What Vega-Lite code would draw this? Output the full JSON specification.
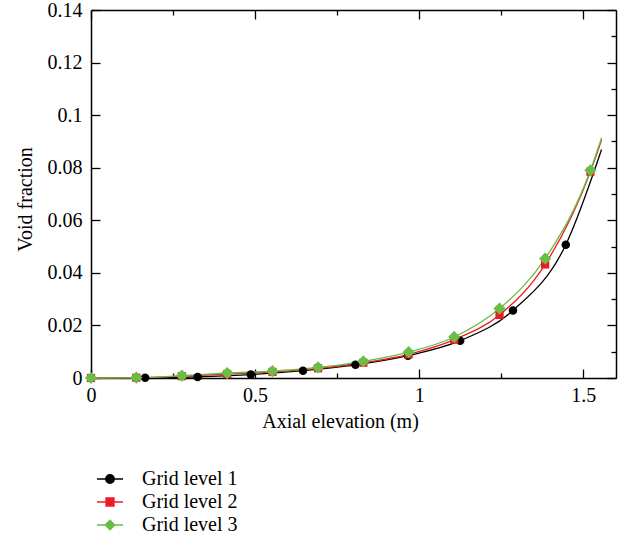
{
  "$schema": "https://vega.github.io/schema/vega-lite/v6.json",
  "width": 525,
  "height": 368,
  "autosize": {"type": "none"},
  "padding": {"left": 91, "top": 10, "right": 11, "bottom": 168},
  "background": "white",
  "config": {
    "view": {"stroke": null},
    "font": "Liberation Serif",
    "axis": {
      "labelFont": "Liberation Serif",
      "titleFont": "Liberation Serif",
      "labelFontSize": 20,
      "titleFontSize": 20,
      "titleFontWeight": "normal",
      "labelColor": "#000",
      "titleColor": "#000",
      "domainColor": "#000",
      "domainWidth": 1.5,
      "tickColor": "#000",
      "tickWidth": 1.3,
      "grid": false
    }
  },
  "data": {
    "values": [
      {"series": "Grid level 1", "elevation": 0, "voidFraction": 0, "marker": true},
      {"series": "Grid level 1", "elevation": 0.165, "voidFraction": 0.0001, "marker": true},
      {"series": "Grid level 1", "elevation": 0.325, "voidFraction": 0.0004, "marker": true},
      {"series": "Grid level 1", "elevation": 0.487, "voidFraction": 0.0013, "marker": true},
      {"series": "Grid level 1", "elevation": 0.646, "voidFraction": 0.0028, "marker": true},
      {"series": "Grid level 1", "elevation": 0.806, "voidFraction": 0.005, "marker": true},
      {"series": "Grid level 1", "elevation": 0.966, "voidFraction": 0.0085, "marker": true},
      {"series": "Grid level 1", "elevation": 1.125, "voidFraction": 0.0142, "marker": true},
      {"series": "Grid level 1", "elevation": 1.286, "voidFraction": 0.0257, "marker": true},
      {"series": "Grid level 1", "elevation": 1.447, "voidFraction": 0.0507, "marker": true},
      {"series": "Grid level 1", "elevation": 1.556, "voidFraction": 0.0869, "marker": false},
      {"series": "Grid level 2", "elevation": 0, "voidFraction": 0, "marker": true},
      {"series": "Grid level 2", "elevation": 0.138, "voidFraction": 0.0001, "marker": true},
      {"series": "Grid level 2", "elevation": 0.277, "voidFraction": 0.0007, "marker": true},
      {"series": "Grid level 2", "elevation": 0.415, "voidFraction": 0.0015, "marker": true},
      {"series": "Grid level 2", "elevation": 0.553, "voidFraction": 0.0023, "marker": true},
      {"series": "Grid level 2", "elevation": 0.692, "voidFraction": 0.0037, "marker": true},
      {"series": "Grid level 2", "elevation": 0.83, "voidFraction": 0.0058, "marker": true},
      {"series": "Grid level 2", "elevation": 0.968, "voidFraction": 0.009, "marker": true},
      {"series": "Grid level 2", "elevation": 1.107, "voidFraction": 0.0146, "marker": true},
      {"series": "Grid level 2", "elevation": 1.245, "voidFraction": 0.024, "marker": true},
      {"series": "Grid level 2", "elevation": 1.384, "voidFraction": 0.0432, "marker": true},
      {"series": "Grid level 2", "elevation": 1.522, "voidFraction": 0.0785, "marker": true},
      {"series": "Grid level 2", "elevation": 1.556, "voidFraction": 0.0905, "marker": false},
      {"series": "Grid level 3", "elevation": 0, "voidFraction": 0, "marker": true},
      {"series": "Grid level 3", "elevation": 0.138, "voidFraction": 0.0001, "marker": true},
      {"series": "Grid level 3", "elevation": 0.277, "voidFraction": 0.0009, "marker": true},
      {"series": "Grid level 3", "elevation": 0.415, "voidFraction": 0.0019, "marker": true},
      {"series": "Grid level 3", "elevation": 0.553, "voidFraction": 0.0026, "marker": true},
      {"series": "Grid level 3", "elevation": 0.692, "voidFraction": 0.004, "marker": true},
      {"series": "Grid level 3", "elevation": 0.83, "voidFraction": 0.0063, "marker": true},
      {"series": "Grid level 3", "elevation": 0.968, "voidFraction": 0.0098, "marker": true},
      {"series": "Grid level 3", "elevation": 1.107, "voidFraction": 0.0156, "marker": true},
      {"series": "Grid level 3", "elevation": 1.245, "voidFraction": 0.0264, "marker": true},
      {"series": "Grid level 3", "elevation": 1.384, "voidFraction": 0.0454, "marker": true},
      {"series": "Grid level 3", "elevation": 1.522, "voidFraction": 0.079, "marker": true},
      {"series": "Grid level 3", "elevation": 1.556, "voidFraction": 0.0914, "marker": false}
    ]
  },
  "layer": [
    {
      "layer": [
        {
          "mark": {"type": "line", "interpolate": "monotone", "strokeWidth": 1.3},
          "encoding": {
            "x": {
              "field": "elevation", "type": "quantitative",
              "scale": {"domain": [0, 1.6], "nice": false, "zero": false},
              "axis": {
                "orient": "bottom",
                "title": "Axial elevation (m)",
                "titleX": 249,
                "titlePadding": 2,
                "values": [0, 0.25, 0.5, 0.75, 1, 1.25, 1.5],
                "labelExpr": "round(datum.value*4) % 2 == 0 ? format(datum.value, '~g') : ''",
                "tickSize": {"condition": {"test": "round(datum.value*4) % 2 == 0", "value": -9}, "value": -5},
                "labelPadding": 16,
                "labelFlush": false,
                "labelOverlap": false
              }
            },
            "y": {
              "field": "voidFraction", "type": "quantitative",
              "scale": {"domain": [0, 0.14], "nice": false, "zero": false},
              "axis": {
                "orient": "left",
                "title": "Void fraction",
                "titleY": 189,
                "titlePadding": 12,
                "values": [0, 0.01, 0.02, 0.03, 0.04, 0.05, 0.06, 0.07, 0.08, 0.09, 0.1, 0.11, 0.12, 0.13, 0.14],
                "labelExpr": "round(datum.value*100) % 2 == 0 ? format(datum.value, '~g') : ''",
                "tickSize": {"condition": {"test": "round(datum.value*100) % 2 == 0", "value": -9}, "value": -5},
                "labelPadding": 18,
                "labelFlush": false,
                "labelOverlap": false
              }
            },
            "color": {
              "field": "series", "type": "nominal",
              "scale": {"domain": ["Grid level 1", "Grid level 2", "Grid level 3"], "range": ["#000000", "#ed1c24", "#6abd45"]},
              "legend": {
                "title": null,
                "orient": "none",
                "legendX": 9,
                "legendY": 459,
                "padding": 0,
                "labelFont": "Liberation Serif",
                "labelFontSize": 20,
                "labelColor": "#000",
                "labelOffset": 22,
                "rowPadding": 3,
                "symbolSize": 256,
                "encode": {
                  "symbols": {
                    "update": {
                      "shape": {"signal": "datum.value === 'Grid level 1' ? 'M-1.625,0H1.625M-0.54,0A0.54,0.54,0,1,0,0.54,0A0.54,0.54,0,1,0,-0.54,0Z' : datum.value === 'Grid level 2' ? 'M-1.625,0H1.625M-0.5,-0.5H0.5V0.5H-0.5Z' : 'M-1.625,0H1.625M-0.6,0L0,-0.6L0.6,0L0,0.6Z'"},
                      "fill": {"signal": "scale('color', datum.value)"},
                      "stroke": {"signal": "scale('color', datum.value)"},
                      "strokeWidth": {"value": 1.3},
                      "opacity": {"value": 1},
                      "fillOpacity": {"value": 1}
                    }
                  }
                }
              }
            }
          }
        },
        {
          "transform": [{"filter": "datum.marker && datum.series === 'Grid level 1'"}],
          "mark": {"type": "point", "filled": true, "opacity": 1, "shape": "circle", "size": 72},
          "encoding": {
            "x": {"field": "elevation", "type": "quantitative"},
            "y": {"field": "voidFraction", "type": "quantitative"},
            "color": {"field": "series", "type": "nominal"}
          }
        },
        {
          "transform": [{"filter": "datum.marker && datum.series === 'Grid level 2'"}],
          "mark": {"type": "point", "filled": true, "opacity": 1, "shape": "square", "size": 68},
          "encoding": {
            "x": {"field": "elevation", "type": "quantitative"},
            "y": {"field": "voidFraction", "type": "quantitative"},
            "color": {"field": "series", "type": "nominal"}
          }
        },
        {
          "transform": [{"filter": "datum.marker && datum.series === 'Grid level 3'"}],
          "mark": {"type": "point", "filled": true, "opacity": 1, "shape": "diamond", "size": 150},
          "encoding": {
            "x": {"field": "elevation", "type": "quantitative"},
            "y": {"field": "voidFraction", "type": "quantitative"},
            "color": {"field": "series", "type": "nominal"}
          }
        }
      ]
    },
    {
      "mark": {"type": "point", "opacity": 0},
      "encoding": {
        "x": {
          "field": "elevation", "type": "quantitative",
          "scale": {"domain": [0, 1.6], "nice": false, "zero": false},
          "axis": {
            "orient": "top",
            "title": null,
            "labels": false,
            "values": [0, 0.25, 0.5, 0.75, 1, 1.25, 1.5],
            "tickSize": {"condition": {"test": "round(datum.value*4) % 2 == 0", "value": -9}, "value": -5}
          }
        },
        "y": {
          "field": "voidFraction", "type": "quantitative",
          "scale": {"domain": [0, 0.14], "nice": false, "zero": false},
          "axis": {
            "orient": "right",
            "title": null,
            "labels": false,
            "values": [0, 0.01, 0.02, 0.03, 0.04, 0.05, 0.06, 0.07, 0.08, 0.09, 0.1, 0.11, 0.12, 0.13, 0.14],
            "tickSize": {"condition": {"test": "round(datum.value*100) % 2 == 0", "value": -9}, "value": -5}
          }
        }
      }
    }
  ],
  "resolve": {"scale": {"x": "independent", "y": "independent"}}
}
